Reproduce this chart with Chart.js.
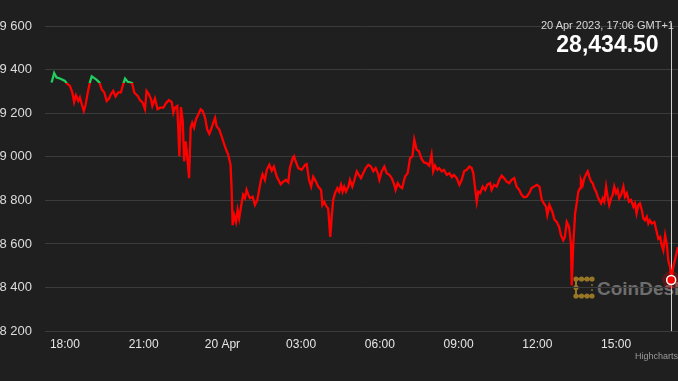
<!DOCTYPE html>
<html>
<head>
<meta charset="utf-8">
<script src="https://cdn.jsdelivr.net/npm/chart.js@4"></script>
<style>
html,body{margin:0;padding:0;background:#1f1f1f;overflow:hidden;width:678px;height:381px}
#wrap{position:relative;width:678px;height:381px;overflow:hidden;font-family:"Liberation Sans",Arial,Helvetica,sans-serif}
#chart{position:absolute;left:0;top:0;z-index:2}
#logo{position:absolute;left:573px;top:276px;z-index:1}
#wmtext{position:absolute;left:597px;top:278px;z-index:1;font-weight:bold;font-size:19px;line-height:21px;color:#6e6e6e;white-space:nowrap}
#tthead{position:absolute;left:507px;width:201px;top:18px;text-align:center;font-size:11px;line-height:14px;color:#d8d8d8;z-index:3;white-space:nowrap}
#ttval{position:absolute;left:507px;width:201px;top:31px;text-align:center;font-size:23px;font-weight:bold;line-height:26px;color:#fff;z-index:3;white-space:nowrap}
#credits{position:absolute;left:635px;top:351px;font-size:9px;line-height:10px;color:#999;z-index:3;white-space:nowrap}
</style>
</head>
<body>
<div id="wrap">
<svg id="logo" width="24" height="26" viewBox="0 0 24 26">
  <g fill="#977626" stroke="#977626" stroke-width="2">
    <line x1="3" y1="3" x2="19" y2="3"/>
    <line x1="3" y1="3" x2="3" y2="20"/>
    <line x1="3" y1="20" x2="19" y2="20"/>
    <circle cx="3" cy="3" r="1.6"/><circle cx="8.5" cy="3" r="1.6"/><circle cx="14" cy="3" r="1.6"/><circle cx="19" cy="3" r="1.6"/>
    <circle cx="3" cy="11.5" r="1.6"/>
    <circle cx="3" cy="20" r="1.6"/><circle cx="8.5" cy="20" r="1.6"/><circle cx="14" cy="20" r="1.6"/><circle cx="19" cy="20" r="1.6"/>
  </g>
  <g fill="#6e5822">
    <rect x="18" y="8" width="2" height="2"/><rect x="18" y="13" width="2" height="2"/>
  </g>
</svg>
<div id="wmtext">CoinDesk</div>
<canvas id="chart" width="678" height="381"></canvas>
<div id="tthead">20 Apr 2023, 17:06 GMT+1</div>
<div id="ttval">28,434.50</div>
<div id="credits">Highcharts.com</div>
</div>
<script>
// hours since 00:00, 19 Apr 2023
const times = [
17.49,17.59,17.68,17.81,18.00,18.06,18.19,18.28,18.35,18.42,
18.51,18.57,18.64,18.72,18.79,18.87,18.95,19.02,19.12,19.21,
19.31,19.40,19.50,19.59,19.68,19.75,19.84,19.93,20.03,20.13,
20.22,20.29,20.39,20.48,20.56,20.64,20.77,20.86,20.96,21.05,
21.11,21.20,21.28,21.33,21.43,21.53,21.62,21.75,21.84,21.96,
22.07,22.13,22.19,22.28,22.36,22.42,22.49,22.54,22.60,22.64,
22.73,22.79,22.85,22.92,22.99,23.08,23.17,23.25,23.34,23.42,
23.50,23.59,23.65,23.72,23.78,23.88,23.97,24.03,24.14,24.22,
24.31,24.35,24.39,24.45,24.52,24.58,24.64,24.73,24.79,24.86,
24.92,24.99,25.05,25.15,25.24,25.33,25.40,25.47,25.53,25.62,
25.69,25.79,25.88,25.96,26.07,26.22,26.32,26.42,26.51,26.57,
26.68,26.73,26.77,26.89,27.02,27.15,27.21,27.30,27.38,27.46,
27.55,27.65,27.76,27.81,27.88,27.97,28.03,28.11,28.16,28.22,
28.29,28.38,28.45,28.52,28.58,28.64,28.71,28.80,28.86,28.95,
29.03,29.12,29.20,29.28,29.37,29.46,29.56,29.66,29.75,29.84,
29.92,29.98,30.07,30.17,30.26,30.36,30.45,30.55,30.60,30.68,
30.77,30.85,30.96,31.06,31.15,31.24,31.31,31.40,31.49,31.59,
31.68,31.78,31.88,31.97,32.03,32.10,32.19,32.26,32.36,32.44,
32.55,32.65,32.74,32.82,32.93,33.03,33.12,33.21,33.31,33.41,
33.50,33.56,33.62,33.69,33.75,33.82,33.92,34.01,34.09,34.20,
34.26,34.35,34.45,34.55,34.64,34.73,34.83,34.93,35.02,35.12,
35.21,35.31,35.40,35.49,35.59,35.69,35.78,35.87,35.98,36.08,
36.17,36.25,36.33,36.38,36.46,36.57,36.65,36.74,36.83,36.90,
36.99,37.05,37.12,37.21,37.28,37.31,37.37,37.44,37.50,37.56,
37.63,37.66,37.73,37.79,37.88,37.92,37.98,38.05,38.11,38.17,
38.24,38.30,38.36,38.43,38.49,38.55,38.62,38.68,38.74,38.81,
38.87,38.93,39.00,39.06,39.12,39.19,39.28,39.34,39.41,39.49,
39.57,39.66,39.72,39.78,39.85,39.91,39.98,40.04,40.10,40.17,
40.23,40.29,40.36,40.46,40.55,40.61,40.68,40.74,40.80,40.87,
40.93,40.99,41.06,41.10,41.18,41.27,41.36
];
const prices = [
29341,29384,29364,29359,29348,29338,29325,29295,29251,29282,
29256,29272,29241,29210,29241,29295,29341,29369,29361,29353,
29341,29310,29295,29256,29267,29287,29302,29276,29295,29295,
29333,29359,29344,29341,29338,29295,29279,29260,29248,29218,
29302,29287,29264,29233,29267,29218,29225,29225,29245,29260,
29251,29202,29225,29233,29002,29228,29163,28979,29071,29025,
28902,29133,29156,29133,29171,29194,29218,29210,29179,29125,
29105,29133,29156,29179,29140,29125,29094,29071,29033,29010,
28963,28856,28686,28732,28701,28756,28717,28786,28825,28810,
28848,28825,28810,28817,28779,28802,28848,28894,28920,28894,
28940,28963,28936,28955,28909,28874,28886,28894,28883,28948,
28994,29002,28987,28948,28940,28963,28967,28894,28863,28909,
28890,28863,28848,28779,28794,28771,28763,28632,28717,28802,
28833,28856,28840,28871,28840,28863,28840,28863,28894,28863,
28894,28933,28917,28902,28925,28948,28963,28955,28933,28948,
28925,28894,28933,28955,28925,28917,28902,28871,28848,28879,
28863,28856,28909,28925,28994,29002,29079,29033,29025,28990,
28974,28971,28959,29010,28933,28959,28940,28948,28933,28940,
28917,28925,28907,28917,28902,28871,28894,28933,28940,28955,
28948,28925,28863,28794,28840,28833,28863,28848,28871,28879,
28848,28871,28863,28894,28913,28902,28886,28879,28894,28902,
28863,28848,28825,28814,28817,28833,28856,28863,28871,28863,
28802,28786,28771,28733,28779,28748,28712,28701,28678,28640,
28617,28632,28701,28678,28601,28409,28601,28740,28786,28840,
28856,28894,28871,28902,28925,28933,28909,28886,28879,28856,
28840,28817,28802,28786,28809,28794,28863,28817,28779,28809,
28825,28863,28833,28848,28809,28825,28863,28817,28833,28794,
28802,28771,28786,28740,28779,28786,28756,28717,28709,28725,
28694,28709,28694,28701,28655,28624,28632,28594,28571,28640,
28601,28524,28493,28434.5,28493,28540,28586
];
const tickHours = [18, 21, 24, 27, 30, 33, 36, 39];
const tickLabels = ['18:00', '21:00', '20 Apr', '03:00', '06:00', '09:00', '12:00', '15:00'];
const yTicks = [28200, 28400, 28600, 28800, 29000, 29200, 29400, 29600];
const zoneThreshold = 29340;
const hoverTime = [41.10];
const hoverPrice = [28434.5];

const RED = '#ff0000', GREEN = '#22cc5e';
const FONT = '"Liberation Sans", Arial, Helvetica, sans-serif';
Chart.defaults.font.family = FONT;

function fmt(v){ return String(v).replace(/\B(?=(\d{3})+(?!\d))/g, ' '); }

function zoneColor(c){
  const ch = c.chart, a = ch.chartArea;
  if (!a) return RED;
  const y = ch.scales.y.getPixelForValue(zoneThreshold);
  const g = ch.ctx.createLinearGradient(0, a.top, 0, a.bottom);
  const s = Math.min(Math.max((y - a.top) / (a.bottom - a.top), 0), 1);
  g.addColorStop(0, GREEN); g.addColorStop(s, GREEN);
  g.addColorStop(s, RED); g.addColorStop(1, RED);
  return g;
}

const crosshair = {
  id: 'crosshair',
  beforeDatasetsDraw(chart){
    const a = chart.chartArea, ctx = chart.ctx;
    const x = Math.round(chart.scales.x.getPixelForValue(hoverTime[0])) + 0.5;
    ctx.save();
    ctx.strokeStyle = '#cfcfcf'; ctx.lineWidth = 1;
    ctx.beginPath(); ctx.moveTo(x, a.top - 3); ctx.lineTo(x, a.bottom); ctx.stroke();
    ctx.restore();
  }
};

new Chart(document.getElementById('chart'), {
  type: 'line',
  data: {
    datasets: [
      { data: hoverTime.map((t, i) => ({x: t, y: hoverPrice[i]})), showLine: false,
        pointRadius: 9, pointBackgroundColor: 'rgba(255,0,0,0.25)', pointBorderWidth: 0, order: 1, clip: false },
      { data: hoverTime.map((t, i) => ({x: t, y: hoverPrice[i]})), showLine: false,
        pointRadius: 4.5, pointBackgroundColor: RED, pointBorderColor: '#ffffff', pointBorderWidth: 1.5, order: 0, clip: false },
      { data: times.map((t, i) => ({x: t, y: prices[i]})), borderColor: zoneColor, borderWidth: 2.3,
        pointRadius: 0, tension: 0, fill: false, order: 2 }
    ]
  },
  options: {
    responsive: false, animation: false, events: [],
    layout: { autoPadding: false, padding: { top: 26, bottom: 23.5, left: 0, right: 0 } },
    plugins: { legend: { display: false }, tooltip: { enabled: false } },
    scales: {
      x: {
        type: 'linear', min: 17.24, max: 41.36,
        afterBuildTicks: s => { s.ticks = tickHours.map(v => ({value: v})); },
        afterFit: s => { s.paddingLeft = 0; s.paddingRight = 0; },
        grid: { display: false, drawTicks: false }, border: { display: false },
        ticks: { callback: (v, i) => tickLabels[i], color: '#e6e6e6', font: { size: 12 },
                 padding: 6, maxRotation: 0, autoSkip: false }
      },
      y: {
        min: 28200, max: 29600,
        afterBuildTicks: s => { s.ticks = yTicks.map(v => ({value: v})); },
        afterFit: s => { s.width = 45; },
        grid: { color: '#3b3b3b', lineWidth: 1, drawTicks: false }, border: { display: false },
        ticks: { callback: v => fmt(v), color: '#dcdcdc', font: { size: 13 }, padding: 13 }
      }
    }
  },
  plugins: [crosshair]
});
</script>
</body>
</html>
